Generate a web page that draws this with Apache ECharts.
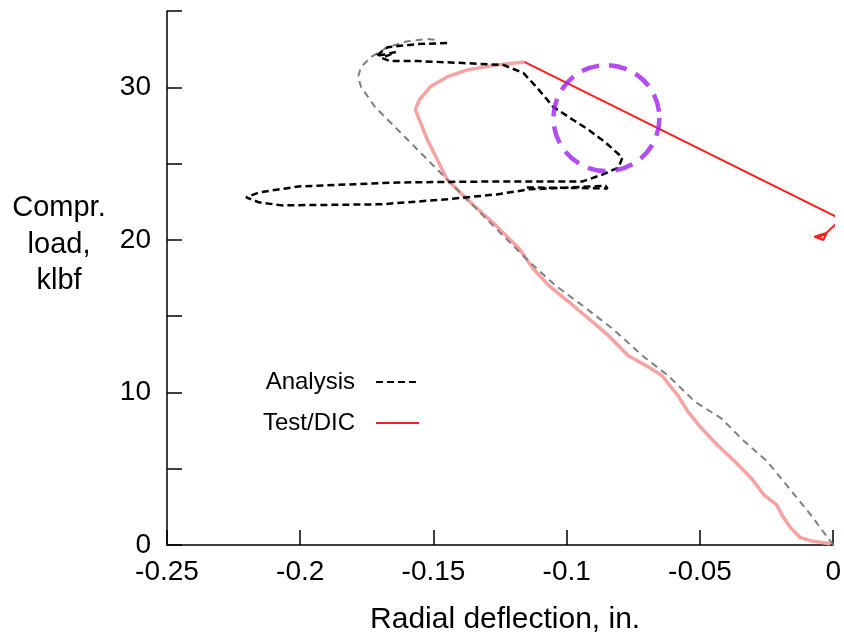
<!DOCTYPE html>
<html>
<head>
<meta charset="utf-8">
<script src="https://cdn.jsdelivr.net/npm/echarts@6/dist/echarts.min.js"></script>
<style>html,body{margin:0;padding:0;background:#fff}#c{width:844px;height:640px}</style>
</head>
<body>
<div id="c"></div>
<script>
// Tick labels / axis settings
const xTicks = [-0.25, -0.2, -0.15, -0.1, -0.05, 0];
const yTicksLabeled = [0, 10, 20, 30];

// Analysis: loading (gray dashed) portion
const analysisLoading = [
  [0, 0], [-0.0085, 1.99], [-0.0175, 3.93], [-0.0249, 5.50], [-0.0334, 6.80],
  [-0.0420, 8.30], [-0.0520, 9.41], [-0.0620, 11.11], [-0.0717, 12.42],
  [-0.0828, 14.18], [-0.0940, 15.68], [-0.1040, 16.98], [-0.1140, 18.55],
  [-0.1263, 20.70], [-0.1449, 23.96], [-0.1549, 25.72], [-0.1646, 27.42],
  [-0.1720, 28.72], [-0.1772, 30.03], [-0.1783, 30.68], [-0.1772, 31.33],
  [-0.1735, 31.98], [-0.1672, 32.63], [-0.1597, 33.02], [-0.1523, 33.16],
  [-0.1486, 33.09]
];

// Analysis: post-buckling (black dashed) portion
const analysisPost = [
  [-0.1449, 32.90], [-0.1560, 32.83], [-0.1672, 32.63], [-0.1716, 32.04],
  [-0.1642, 32.31], [-0.1694, 31.92], [-0.1664, 31.72], [-0.1560, 31.72],
  [-0.1389, 31.59], [-0.1237, 31.46], [-0.1163, 30.94], [-0.1114, 30.03],
  [-0.1051, 28.72], [-0.0977, 27.87], [-0.0918, 27.22], [-0.0854, 26.37],
  [-0.0791, 25.39], [-0.0806, 24.74], [-0.0866, 24.28], [-0.0940, 23.83],
  [-0.1263, 23.83], [-0.1634, 23.76], [-0.2006, 23.50], [-0.2155, 23.11],
  [-0.2203, 22.79], [-0.2155, 22.46], [-0.2069, 22.26], [-0.1698, 22.33],
  [-0.1449, 22.66], [-0.1263, 22.98], [-0.1140, 23.31], [-0.0854, 23.54],
  [-0.0847, 23.37], [-0.1163, 23.44]
];

// Test/DIC: loading (light red) portion
const testLoading = [
  [-0.0011, 0.08], [-0.0085, 0.28], [-0.0123, 0.48], [-0.0160, 1.14],
  [-0.0186, 1.78], [-0.0212, 2.63], [-0.0260, 3.28], [-0.0308, 4.39],
  [-0.0371, 5.50], [-0.0434, 6.54], [-0.0494, 7.65], [-0.0546, 8.76],
  [-0.0583, 9.80], [-0.0643, 11.11], [-0.0695, 11.69], [-0.0769, 12.41],
  [-0.0843, 13.72], [-0.0917, 14.83], [-0.0992, 15.94], [-0.1066, 16.98],
  [-0.1125, 18.09], [-0.1177, 19.40], [-0.1263, 20.90], [-0.1374, 22.66],
  [-0.1449, 23.96], [-0.1486, 25.27], [-0.1523, 26.57], [-0.1549, 27.68],
  [-0.1568, 28.53], [-0.1553, 29.18], [-0.1512, 30.03], [-0.1449, 30.68],
  [-0.1374, 31.14], [-0.1263, 31.46], [-0.1159, 31.66]
];

// Test/DIC: post-peak (red) portion
const testPost = [
  [-0.1159, 31.66], [0.003, 21.35], [-0.0026, 20.45], [-0.0071, 20.21],
  [-0.0037, 19.99], [-0.0026, 20.40], [-0.0060, 20.15], [-0.0040, 20.05]
];

// Highlight circle annotation (centre)
const highlight = [[-0.0851, 27.98]];

const chart = echarts.init(document.getElementById('c'));
const FONT = 'Liberation Sans, Arial, Helvetica, sans-serif';
chart.setOption({
  animation: false,
  backgroundColor: '#fff',
  grid: { left: 167, right: 4, top: 11, bottom: 93, containLabel: false },
  xAxis: {
    type: 'value', min: -0.25, max: 0, interval: 0.05,
    name: 'Radial deflection, in.', nameLocation: 'middle', nameGap: 60,
    nameTextStyle: { fontSize: 30, color: '#000', fontFamily: FONT, padding: [0, 0, 0, 10] },
    axisLine: { show: true, onZero: false, lineStyle: { color: '#000', width: 1.5 } },
    axisTick: { show: true, inside: true, length: 15, lineStyle: { color: '#000', width: 1.5 } },
    axisLabel: { fontSize: 28, color: '#000', fontFamily: FONT, margin: 13,
      formatter: v => { const r = +(+v).toFixed(2); return xTicks.indexOf(r) >= 0 ? String(r) : ''; } },
    splitLine: { show: false }
  },
  yAxis: {
    type: 'value', min: 0, max: 35, interval: 5,
    axisLine: { show: true, onZero: false, lineStyle: { color: '#000', width: 1.5 } },
    axisTick: { show: true, inside: true, length: 15, lineStyle: { color: '#000', width: 1.5 } },
    axisLabel: { fontSize: 28, color: '#000', fontFamily: FONT, margin: 16,
      formatter: v => yTicksLabeled.indexOf(v) >= 0 ? String(v) : '' },
    splitLine: { show: false }
  },
  legend: {
    data: ['Analysis', 'Test/DIC'],
    orient: 'vertical', align: 'right', left: 263, top: 370, padding: 0,
    itemWidth: 43, itemHeight: 24, itemGap: 17, itemTextGap: 5,
    itemStyle: { opacity: 0 },
    textStyle: { fontSize: 24, color: '#000', fontFamily: FONT, padding: [0, 16, 0, 0] }
  },
  graphic: [{
    type: 'text', x: 59, y: 190,
    style: { text: 'Compr.\nload,\nklbf', fontSize: 29, fontFamily: FONT, fill: '#000',
      align: 'center', verticalAlign: 'top', lineHeight: 36.5 }
  }],
  series: [
    { name: 'Test/DIC loading', type: 'line', data: testLoading, symbol: 'none',
      lineStyle: { color: '#f7a3a3', width: 3.5 }, z: 2 },
    { name: 'Analysis loading', type: 'line', data: analysisLoading, symbol: 'none',
      lineStyle: { color: '#808080', width: 2, type: [7, 5] }, z: 3 },
    { name: 'Analysis', type: 'line', data: analysisPost, symbol: 'none',
      itemStyle: { color: '#000' },
      lineStyle: { color: '#000', width: 2.5, type: [7, 4] }, z: 4 },
    { name: 'Test/DIC', type: 'line', data: testPost, symbol: 'none', clip: false,
      itemStyle: { color: '#ff1f1f' },
      lineStyle: { color: '#ff1f1f', width: 2 }, z: 5 },
    { name: 'highlight', type: 'scatter', data: highlight, symbol: 'circle', symbolSize: 106,
      itemStyle: { color: 'rgba(0,0,0,0)', borderColor: '#a020f0', borderWidth: 4.5,
        borderType: [18, 10] }, z: 6, silent: true }
  ]
});
</script>
</body>
</html>
